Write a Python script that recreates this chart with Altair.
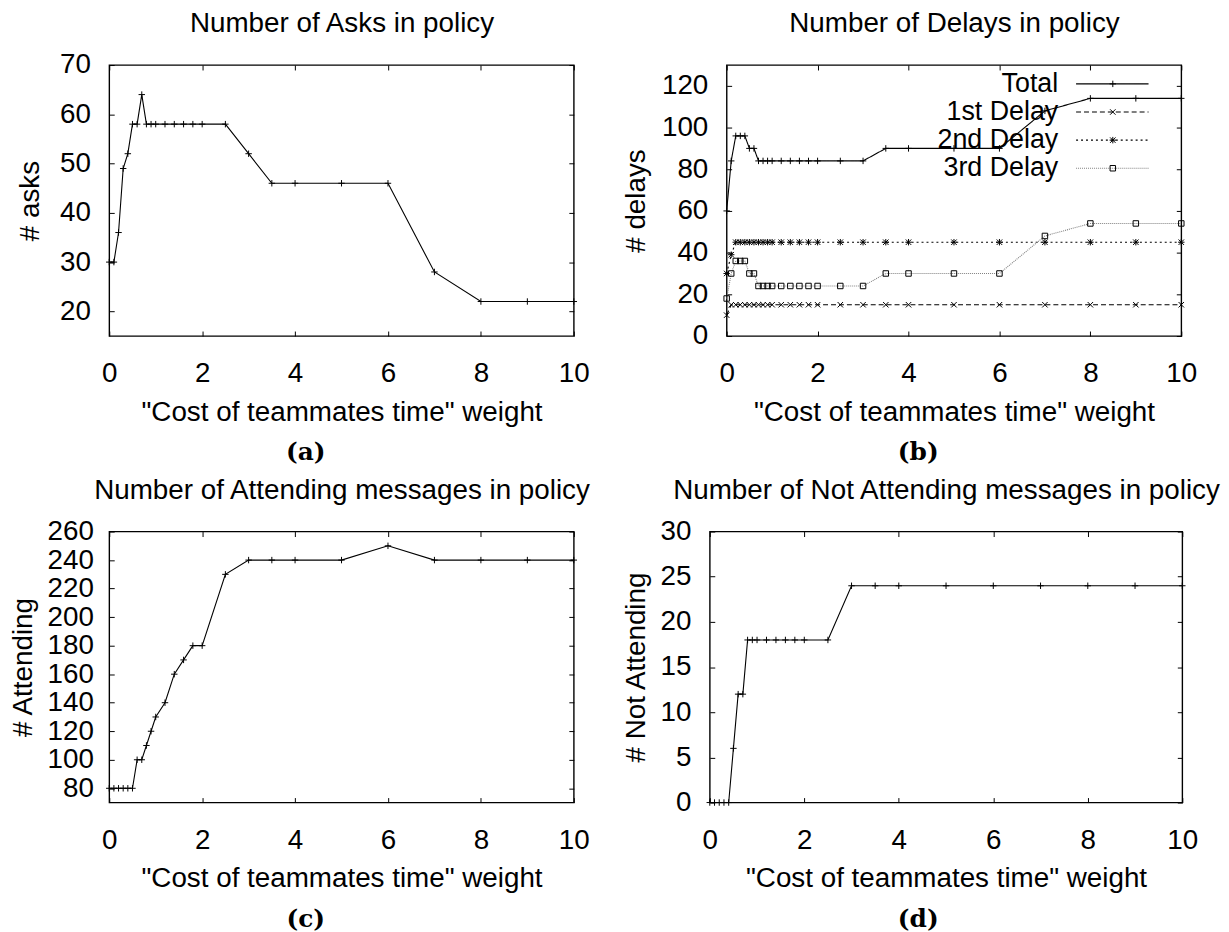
import altair as alt
import pandas as pd

# ---- data ----
X = [0, 0.1, 0.2, 0.3, 0.4, 0.5, 0.6, 0.7, 0.8, 0.9, 1.0, 1.2, 1.4, 1.6, 1.8, 2.0,
     2.5, 3.0, 3.5, 4, 5, 6, 7, 8, 9, 10]
ASKS = [30, 30, 36, 49, 52, 58, 58, 64, 58, 58, 58, 58, 58, 58, 58, 58,
        58, 52, 46, 46, 46, 46, 28, 22, 22, 22]
TOTAL = [60, 84, 96, 96, 96, 90, 90, 84, 84, 84, 84, 84, 84, 84, 84, 84,
         84, 84, 90, 90, 90, 90, 108, 114, 114, 114]
DELAY1 = [10, 15, 15, 15, 15, 15, 15, 15, 15, 15, 15, 15, 15, 15, 15, 15,
          15, 15, 15, 15, 15, 15, 15, 15, 15, 15]
DELAY2 = [30, 39, 45, 45, 45, 45, 45, 45, 45, 45, 45, 45, 45, 45, 45, 45,
          45, 45, 45, 45, 45, 45, 45, 45, 45, 45]
DELAY3 = [18, 30, 36, 36, 36, 30, 30, 24, 24, 24, 24, 24, 24, 24, 24, 24,
          24, 24, 30, 30, 30, 30, 48, 54, 54, 54]
ATTENDING = [80, 80, 80, 80, 80, 80, 100, 100, 110, 120, 130, 140, 160, 170, 180, 180,
             230, 240, 240, 240, 240, 250, 240, 240, 240, 240]
NOT_ATTENDING = [0, 0, 0, 0, 0, 6, 12, 12, 18, 18, 18, 18, 18, 18, 18, 18,
                 18, 24, 24, 24, 24, 24, 24, 24, 24, 24]
SERIES = ["Total", "1st Delay", "2nd Delay", "3rd Delay"]

X_TICKS = [0, 2, 4, 6, 8, 10]
ASKS_TICKS = [20, 30, 40, 50, 60, 70]
DELAY_TICKS = [0, 20, 40, 60, 80, 100, 120]
ATT_TICKS = [80, 100, 120, 140, 160, 180, 200, 220, 240, 260]
NOT_TICKS = [0, 5, 10, 15, 20, 25, 30]

XTITLE = '"Cost of teammates time" weight'
FONT = "Liberation Sans"
SERIF = "DejaVu Serif"

PLUS = "M-1,0L1,0M0,-1L0,1"
CROSS = "M-0.85,-0.85L0.85,0.85M-0.85,0.85L0.85,-0.85"
STAR = PLUS + CROSS
SQUARE = "M-0.85,-0.85L0.85,-0.85L0.85,0.85L-0.85,0.85Z"

H = 273
TICK = 5


def axes(ytitle, yticks, title, ytp, ylp):
    ax_b = alt.Axis(orient="bottom", values=X_TICKS, title=XTITLE, tickSize=TICK, offset=-TICK,
                    domain=False, labelPadding=24, titlePadding=11, labelFlush=False,
                    labelOverlap=False, grid=False)
    ax_t = alt.Axis(orient="top", values=X_TICKS, title=title, tickSize=TICK, offset=-TICK,
                    domain=False, labels=False, titlePadding=27, grid=False)
    ax_l = alt.Axis(orient="left", values=yticks, title=ytitle, tickSize=TICK, offset=-TICK,
                    domain=False, labelPadding=ylp, titlePadding=ytp, labelOverlap=False,
                    labelFlush=False, grid=False)
    ax_r = alt.Axis(orient="right", values=yticks, title=None, tickSize=TICK, offset=-TICK,
                    domain=False, labels=False, grid=False)
    return ax_b, ax_t, ax_l, ax_r


def sub_title(s, dx):
    return alt.TitleParams(s, orient="bottom", font=SERIF, fontWeight="bold", fontSize=25,
                           frame="group", anchor="middle", offset=14, dx=dx, color="black")


def single_panel(values, ydom, yticks, ytitle, title, sub, dx, width, ytp, ylp):
    df = pd.DataFrame({"x": X, "y": values})
    xs = alt.Scale(domain=[0, 10], nice=False, zero=False)
    ys = alt.Scale(domain=ydom, nice=False, zero=False)
    ax_b, ax_t, ax_l, ax_r = axes(ytitle, yticks, title, ytp, ylp)
    base = alt.Chart(df)
    line = base.mark_line(color="black", strokeWidth=1.1).encode(
        x=alt.X("x:Q", scale=xs, axis=ax_b),
        y=alt.Y("y:Q", scale=ys, axis=ax_l),
    )
    pts = base.mark_point(shape=PLUS, size=42, filled=False, color="black",
                          strokeWidth=1, opacity=1).encode(
        x=alt.X("x:Q", scale=xs, axis=ax_t),
        y=alt.Y("y:Q", scale=ys, axis=ax_r),
    )
    return alt.layer(line, pts).resolve_axis(x="independent", y="independent").properties(
        width=width, height=H, title=sub_title(sub, dx))


def delay_panel(width, ytp, ylp):
    rows = []
    for name, vals in zip(SERIES, [TOTAL, DELAY1, DELAY2, DELAY3]):
        for xv, yv in zip(X, vals):
            rows.append({"x": xv, "y": yv, "series": name})
    df = pd.DataFrame(rows)
    leg_df = pd.DataFrame({"series": SERIES})
    xs = alt.Scale(domain=[0, 10], nice=False, zero=False)
    ys = alt.Scale(domain=[0, 130], nice=False, zero=False)
    cscale = alt.Scale(domain=SERIES, range=["black", "black", "black", "#808080"])
    dscale = alt.Scale(domain=SERIES, range=[[1, 0], [5, 3], [2, 3], [1, 1]])
    sscale = alt.Scale(domain=SERIES, range=[PLUS, CROSS, STAR, SQUARE])
    ax_b, ax_t, ax_l, ax_r = axes("# delays", DELAY_TICKS, "Number of Delays in policy",
                                  ytp, ylp)
    base = alt.Chart(df)
    line = base.mark_line(strokeWidth=1.1).encode(
        x=alt.X("x:Q", scale=xs, axis=ax_b),
        y=alt.Y("y:Q", scale=ys, axis=ax_l),
        color=alt.Color("series:N", scale=cscale, legend=None),
        strokeDash=alt.StrokeDash("series:N", scale=dscale, legend=None),
    )
    pts = base.mark_point(size=42, filled=False, color="black", strokeWidth=1,
                          opacity=1).encode(
        x=alt.X("x:Q", scale=xs, axis=ax_t),
        y=alt.Y("y:Q", scale=ys, axis=ax_r),
        shape=alt.Shape("series:N", scale=sscale, legend=None),
    )
    # key in the gnuplot style: label, then line sample with its marker
    ly = alt.Y("series:N", scale=alt.Scale(type="point", domain=SERIES, range=[19, 104],
                                           padding=0), axis=None)
    leg_base = alt.Chart(leg_df)
    leg_text = leg_base.mark_text(align="right", baseline="middle", font=FONT, fontSize=27,
                                  color="black").encode(
        x=alt.value(334), y=ly, text="series:N")
    leg_rule = leg_base.mark_rule(strokeWidth=1.1).encode(
        x=alt.value(352), x2=alt.value(425), y=ly,
        color=alt.Color("series:N", scale=cscale, legend=None),
        strokeDash=alt.StrokeDash("series:N", scale=dscale, legend=None))
    leg_pt = leg_base.mark_point(size=42, filled=False, color="black", strokeWidth=1,
                                 opacity=1).encode(
        x=alt.value(389), y=ly,
        shape=alt.Shape("series:N", scale=sscale, legend=None))
    return alt.layer(line, pts, leg_rule, leg_pt, leg_text).resolve_axis(
        x="independent", y="independent").resolve_scale(y="independent").properties(
        width=width, height=H, title=sub_title("(b)", -36))


pa = single_panel(ASKS, [15, 70], ASKS_TICKS, "# asks", "Number of Asks in policy",
                  "(a)", -36, 468, 15, 19)
pb = delay_panel(458, 11, 19)
pc = single_panel(ATTENDING, [70, 260], ATT_TICKS, "# Attending",
                  "Number of Attending messages in policy", "(c)", -36, 468, 10, 16)
pd_ = single_panel(NOT_ATTENDING, [0, 30], NOT_TICKS, "# Not Attending",
                   "Number of Not Attending messages in policy", "(d)", -28, 476, 10, 19)

chart = alt.concat(pa, pb, pc, pd_, columns=2, align="none",
                   spacing={"row": 9, "column": 30}).properties(
    padding={"left": 0, "top": -3, "right": 0, "bottom": 0}
).configure(background="white").configure_axis(
    labelFont=FONT, titleFont=FONT, labelFontSize=28, titleFontSize=28,
    labelColor="black", titleColor="black", tickColor="black", tickWidth=1,
    titleFontWeight="normal",
).configure_view(stroke="black", strokeWidth=1.4)

chart.save("out.html", embed_options={"renderer": "svg", "actions": False})
